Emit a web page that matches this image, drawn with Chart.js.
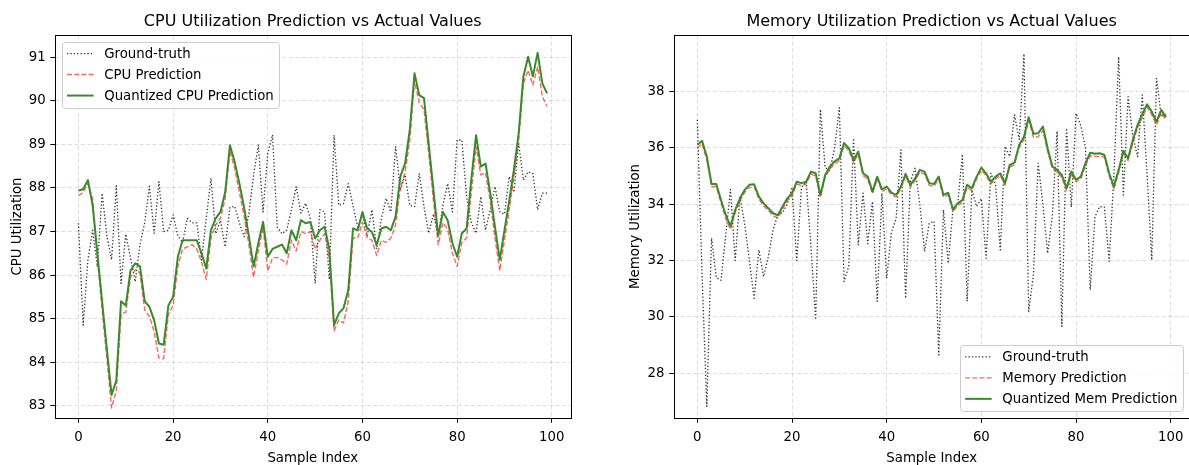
<!DOCTYPE html>
<html>
<head>
<meta charset="utf-8">
<script src="https://cdn.jsdelivr.net/npm/chart.js@4.4.1/dist/chart.umd.min.js"></script>
<style>
  html, body { margin: 0; padding: 0; background: #fff; overflow: hidden; width: 1189px; height: 465px; }
  #cpuChart { position: absolute; left: 0; top: 0; }
  #memChart { position: absolute; left: 600px; top: 0; }
</style>
</head>
<body>
<canvas id="cpuChart" width="600" height="465"></canvas>
<canvas id="memChart" width="600" height="465"></canvas>
<script>
// ---- data ----
const sampleIndex = Array.from({ length: 100 }, (_, i) => i);
const xTicks = [0, 20, 40, 60, 80, 100];
const cpuTicks = [83, 84, 85, 86, 87, 88, 89, 90, 91];
const memTicks = [28, 30, 32, 34, 36, 38];

const cpuTruth = [
  87.19, 84.85, 86.35, 87.03, 86.19, 87.88, 86.90, 86.35, 88.05, 85.81,
  86.94, 86.40, 85.85, 86.70, 87.20, 88.04, 86.96, 88.14, 87.00, 87.03,
  87.38, 86.90, 86.75, 87.30, 87.20, 87.20, 86.35, 87.30, 88.22, 86.95,
  87.25, 86.65, 87.55, 87.58, 87.20, 86.88, 87.40, 88.30, 88.98, 87.45,
  88.80, 89.22, 87.10, 86.95, 87.03, 87.50, 88.03, 87.42, 87.65, 87.30,
  85.81, 87.50, 87.45, 85.90, 89.21, 87.60, 87.64, 88.10, 87.60, 87.10,
  87.40, 86.90, 87.50, 86.60, 87.30, 87.76, 87.45, 88.95, 87.95, 88.30,
  87.60, 87.57, 88.33, 87.57, 86.96, 87.40, 86.90, 87.60, 88.10, 87.45,
  89.10, 89.10, 87.80, 87.20, 86.96, 87.80, 87.03, 87.50, 88.03, 87.45,
  87.40, 88.26, 87.90, 89.02, 88.18, 88.37, 88.33, 87.50, 87.88, 87.88
];
const cpuPred = [
  87.82, 87.90, 88.10, 87.75, 86.40, 85.20, 84.10, 82.95, 83.35, 85.10,
  85.15, 85.95, 86.12, 86.05, 85.20, 85.05, 84.70, 84.10, 84.08, 85.10,
  85.30, 86.20, 86.60, 86.65, 86.70, 86.60, 86.30, 85.90, 86.85, 87.15,
  87.30, 87.75, 88.85, 88.45, 87.90, 87.35, 86.70, 85.95, 86.55, 87.10,
  86.10, 86.40, 86.40, 86.35, 86.25, 86.80, 86.55, 87.00, 86.95, 87.00,
  86.60, 86.80, 86.95, 86.40, 84.72, 84.97, 84.90, 85.40, 86.85, 86.85,
  87.22, 86.85, 86.80, 86.45, 86.80, 86.75, 86.85, 87.15, 88.00, 88.35,
  89.10, 90.45, 89.95, 89.80, 88.80, 87.70, 86.70, 87.20, 87.05, 86.50,
  86.20, 86.75, 86.85, 87.90, 88.95, 88.30, 88.35, 87.70, 86.85, 86.10,
  86.80, 87.50, 88.25, 89.10, 90.40, 90.70, 90.36, 90.78, 90.10, 89.87
];
const cpuQuant = [
  87.94, 87.97, 88.18, 87.60, 86.50, 85.40, 84.30, 83.25, 83.58, 85.40,
  85.30, 86.10, 86.27, 86.20, 85.40, 85.27, 84.96, 84.43, 84.40, 85.30,
  85.50, 86.42, 86.80, 86.80, 86.80, 86.80, 86.50, 86.15, 87.03, 87.30,
  87.45, 87.90, 88.98, 88.60, 88.10, 87.55, 86.90, 86.20, 86.73, 87.22,
  86.42, 86.60, 86.65, 86.70, 86.50, 87.03, 86.80, 87.26, 87.19, 87.22,
  86.84, 87.03, 87.11, 86.60, 84.85, 85.12, 85.24, 85.65, 87.07, 87.03,
  87.45, 87.07, 86.99, 86.69, 87.07, 87.11, 87.03, 87.34, 88.26, 88.56,
  89.33, 90.63, 90.13, 90.06, 89.00, 87.95, 86.90, 87.45, 87.26, 86.73,
  86.42, 86.96, 87.07, 88.20, 89.21, 88.49, 88.56, 87.88, 87.10, 86.35,
  87.03, 87.70, 88.42, 89.25, 90.56, 91.01, 90.56, 91.10, 90.40, 90.17
];

const memTruth = [
  37.00, 31.50, 26.82, 32.80, 31.40, 31.30, 32.90, 34.53, 32.00, 34.27,
  33.30, 32.00, 30.66, 32.38, 31.43, 32.14, 33.09, 33.62, 33.70, 34.00,
  34.60, 32.00, 34.60, 34.80, 32.50, 29.90, 37.37, 35.30, 35.20, 36.00,
  37.43, 31.25, 31.80, 36.34, 32.56, 34.39, 32.60, 34.10, 30.55, 34.39,
  31.37, 33.00, 33.50, 35.93, 30.66, 34.80, 35.28, 34.00, 32.32, 33.32,
  33.40, 28.65, 33.80, 31.90, 33.85, 34.00, 35.78, 30.55, 34.51, 33.92,
  34.20, 32.08, 35.10, 34.70, 32.38, 36.05, 35.70, 37.17, 36.30, 39.34,
  30.19, 31.50, 35.46, 34.00, 32.26, 33.60, 36.60, 29.66, 36.70, 33.90,
  37.23, 36.80, 36.00, 30.96, 33.56, 33.92, 33.90, 31.97, 35.00, 39.24,
  34.33, 37.82, 36.40, 35.69, 37.88, 35.10, 32.02, 38.47, 37.11, 37.20
];
const memPred = [
  35.99, 36.15, 35.58, 34.63, 34.62, 34.05, 33.50, 33.11, 33.70, 34.12,
  34.42, 34.60, 34.62, 34.18, 33.95, 33.78, 33.58, 33.52, 33.83, 34.12,
  34.30, 34.72, 34.66, 34.72, 35.08, 35.00, 34.25, 34.95, 35.25, 35.43,
  35.55, 36.08, 35.90, 35.48, 35.78, 35.02, 34.90, 34.38, 34.90, 34.45,
  34.55, 34.33, 34.26, 34.55, 35.00, 34.61, 34.84, 35.14, 35.07, 34.67,
  34.64, 34.90, 34.25, 34.33, 33.74, 33.95, 34.07, 34.60, 34.49, 34.90,
  35.21, 35.02, 34.72, 34.90, 35.02, 34.68, 35.32, 35.40, 36.02, 36.30,
  36.98, 36.38, 36.40, 36.62, 35.88, 35.26, 35.14, 34.96, 34.50, 35.07,
  34.79, 34.90, 35.38, 35.72, 35.70, 35.70, 35.67, 35.00, 34.55, 35.12,
  35.80, 35.55, 36.18, 36.72, 37.08, 37.45, 37.18, 36.82, 37.25, 37.00
];
const memQuant = [
  36.11, 36.25, 35.69, 34.72, 34.72, 34.15, 33.62, 33.23, 33.80, 34.21,
  34.51, 34.69, 34.71, 34.27, 34.03, 33.86, 33.68, 33.61, 33.92, 34.21,
  34.39, 34.80, 34.75, 34.80, 35.16, 35.10, 34.33, 35.04, 35.34, 35.52,
  35.63, 36.17, 35.99, 35.57, 35.87, 35.10, 34.98, 34.45, 34.98, 34.53,
  34.63, 34.41, 34.33, 34.63, 35.08, 34.69, 34.92, 35.22, 35.16, 34.75,
  34.72, 34.98, 34.33, 34.41, 33.82, 34.03, 34.15, 34.69, 34.57, 34.98,
  35.30, 35.10, 34.80, 34.98, 35.10, 34.75, 35.40, 35.48, 36.11, 36.40,
  37.09, 36.50, 36.52, 36.76, 35.99, 35.34, 35.22, 35.04, 34.57, 35.16,
  34.87, 34.98, 35.46, 35.83, 35.79, 35.81, 35.75, 35.10, 34.63, 35.22,
  35.90, 35.63, 36.28, 36.82, 37.20, 37.55, 37.29, 36.93, 37.35, 37.09
];

// ---- styling ----
const FONT = '"DejaVu Sans", "Liberation Sans", sans-serif';
const styles = {
  truth: { color: 'rgba(25,25,25,0.9)', width: 1.3, dash: [1.3, 2.1] },
  pred:  { color: 'rgba(240,55,55,0.75)', width: 1.4, dash: [5, 2.2] },
  quant: { color: '#3a8a2c', width: 2, dash: [] }
};

function series(label, values, style, order) {
  return {
    label, data: values, order,
    borderColor: style.color, borderWidth: style.width, borderDash: style.dash,
    borderJoinStyle: 'round', borderCapStyle: 'butt',
    pointRadius: 0, tension: 0, fill: false
  };
}

// black frame round the plotting area (drawn above the lines)
const framePlugin = {
  id: 'frame',
  afterDatasetsDraw(chart) {
    const { ctx, chartArea: a } = chart;
    ctx.save();
    ctx.strokeStyle = '#000';
    ctx.lineWidth = 1;
    ctx.setLineDash([]);
    ctx.strokeRect(Math.round(a.left) + 0.5, Math.round(a.top) + 0.5,
                   Math.round(a.right - a.left), Math.round(a.bottom - a.top));
    ctx.restore();
  }
};

// legend box placed inside the plotting area
const boxLegend = {
  id: 'boxLegend',
  afterDraw(chart, args, opts) {
    const { ctx, chartArea: a } = chart;
    const fs = 13.3;
    const pad = 0.4 * fs, handle = 2 * fs, gap = 0.8 * fs, inset = 0.5 * fs;
    const rowH = 21, boxH = 66.4;
    ctx.save();
    ctx.font = fs + 'px ' + FONT;
    const items = chart.data.datasets;
    const textW = Math.max(...items.map(d => ctx.measureText(d.label).width));
    const w = pad * 2 + handle + gap + textW;
    const lowerRight = opts.corner === 'lower right';
    const x = lowerRight ? a.right - inset - w : a.left + inset;
    const y = lowerRight ? a.bottom - inset - boxH : a.top + inset;
    ctx.beginPath();
    ctx.roundRect(Math.round(x) + 0.5, Math.round(y) + 0.5, Math.round(w), Math.round(boxH), 3);
    ctx.fillStyle = 'rgba(255,255,255,0.85)';
    ctx.fill();
    ctx.strokeStyle = '#cccccc';
    ctx.lineWidth = 1;
    ctx.stroke();
    items.forEach((d, i) => {
      const cy = y + 11.9 + i * rowH;
      ctx.beginPath();
      ctx.setLineDash(d.borderDash || []);
      ctx.strokeStyle = d.borderColor;
      ctx.lineWidth = d.borderWidth;
      ctx.moveTo(x + pad, cy);
      ctx.lineTo(x + pad + handle, cy);
      ctx.stroke();
      ctx.setLineDash([]);
      ctx.fillStyle = '#000';
      ctx.textBaseline = 'middle';
      ctx.textAlign = 'left';
      ctx.fillText(d.label, x + pad + handle + gap, cy + 0.5);
    });
    ctx.restore();
  }
};

function axisTitle(text, padding) {
  return { display: true, text, color: '#000', font: { family: FONT, size: 13.3 }, padding };
}
const gridOpts = {
  color: 'rgba(176,176,176,0.55)', lineWidth: 0.8,
  tickColor: '#000', tickWidth: 1, tickLength: 4.7
};
const borderOpts = { display: false, dash: [4, 2.5] };
const tickFont = { family: FONT, size: 13.3 };

function makeChart(id, opt) {
  return new Chart(document.getElementById(id), {
    type: 'line',
    data: {
      labels: sampleIndex,
      datasets: [
        series('Ground-truth', opt.truth, styles.truth, 3),
        series(opt.predLabel, opt.pred, styles.pred, 2),
        series(opt.quantLabel, opt.quant, styles.quant, 1)
      ]
    },
    options: {
      responsive: false, animation: false, devicePixelRatio: 1,
      layout: { padding: { left: 0, right: opt.padRight, top: 0, bottom: 0 } },
      scales: {
        x: {
          type: 'linear', min: -4.95, max: 103.95,
          afterBuildTicks: s => { s.ticks = xTicks.map(v => ({ value: v })); },
          afterFit: s => { s.height = 47; },
          ticks: { color: '#000', font: tickFont, padding: 6.5, maxRotation: 0, autoSkip: false },
          grid: gridOpts, border: borderOpts,
          title: axisTitle('Sample Index', { top: 0, bottom: -2 })
        },
        y: {
          min: opt.yMin, max: opt.yMax,
          afterBuildTicks: s => { s.ticks = opt.yTicks.map(v => ({ value: v })); },
          afterFit: s => { s.width = opt.yWidth; },
          ticks: { color: '#000', font: tickFont, padding: 4.7, autoSkip: false },
          grid: gridOpts, border: borderOpts,
          title: axisTitle(opt.yLabel, { top: opt.yTitlePad, bottom: 0 })
        }
      },
      plugins: {
        legend: { display: false },
        tooltip: { enabled: false },
        title: {
          display: true, text: opt.title, color: '#000', fullSize: false,
          font: { family: FONT, size: 16, weight: 'normal' },
          padding: { top: 12.2, bottom: 3.6 }
        },
        boxLegend: { corner: opt.legendCorner }
      }
    },
    plugins: [framePlugin, boxLegend]
  });
}

makeChart('cpuChart', {
  title: 'CPU Utilization Prediction vs Actual Values',
  yLabel: 'CPU Utilization',
  predLabel: 'CPU Prediction', quantLabel: 'Quantized CPU Prediction',
  truth: cpuTruth, pred: cpuPred, quant: cpuQuant,
  yMin: 82.72, yMax: 91.51, yTicks: cpuTicks,
  yWidth: 55, yTitlePad: 10, padRight: 29.5, legendCorner: 'upper left'
});

makeChart('memChart', {
  title: 'Memory Utilization Prediction vs Actual Values',
  yLabel: 'Memory Utilization',
  predLabel: 'Memory Prediction', quantLabel: 'Quantized Mem Prediction',
  truth: memTruth, pred: memPred, quant: memQuant,
  yMin: 26.41, yMax: 40.01, yTicks: memTicks,
  yWidth: 73.9, yTitlePad: 28, padRight: 10.6, legendCorner: 'lower right'
});
</script>
</body>
</html>
